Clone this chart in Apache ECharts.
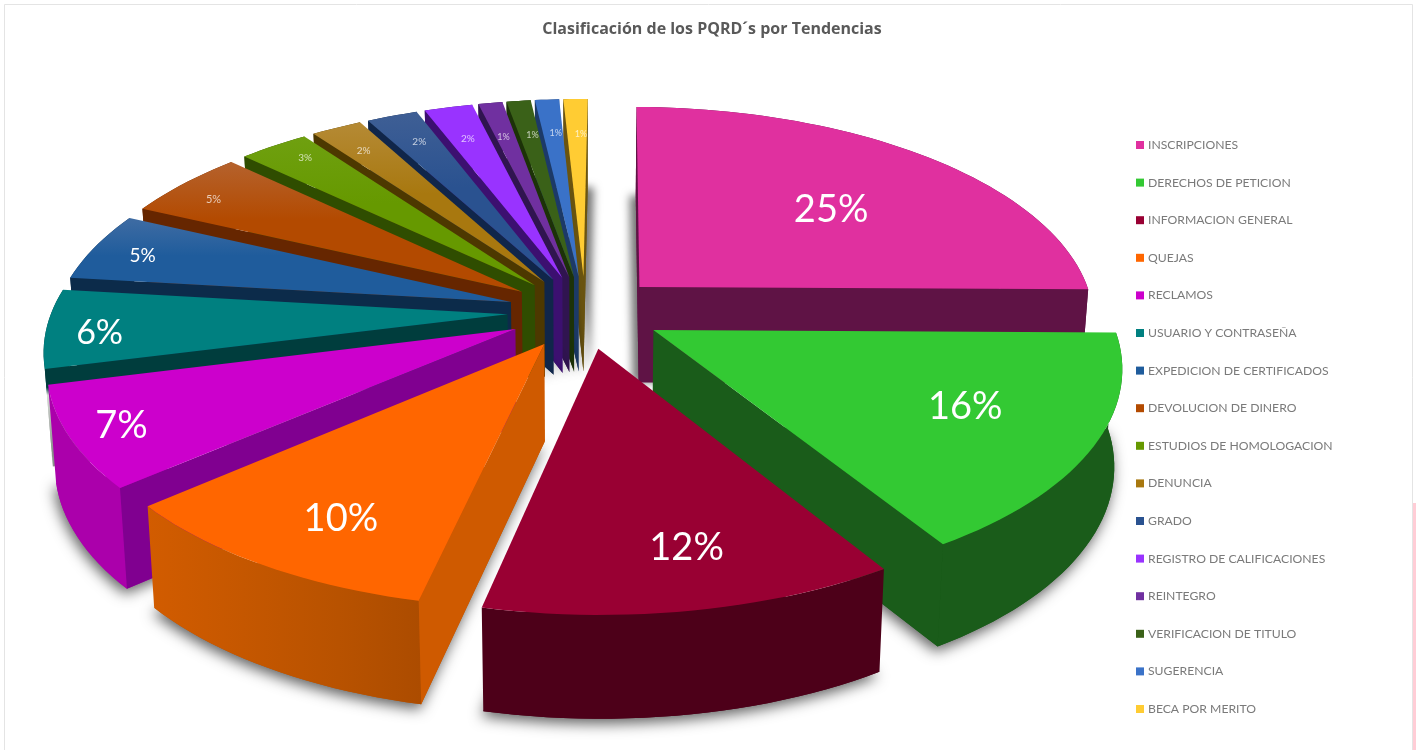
<!DOCTYPE html>
<html>
<head>
<meta charset="utf-8">
<title>Clasificación de los PQRD´s por Tendencias</title>
<style>html,body{margin:0;padding:0;background:#fff}#chart{width:1416px;height:750px}</style>
<script src="https://cdn.jsdelivr.net/npm/echarts@6/dist/echarts.min.js"></script>
</head>
<body>
<div id="chart"></div>
<script>
// PQRD counts by category, as shares of the total
const categories = ['INSCRIPCIONES','DERECHOS DE PETICION','INFORMACION GENERAL','QUEJAS','RECLAMOS',
  'USUARIO Y CONTRASEÑA','EXPEDICION DE CERTIFICADOS','DEVOLUCION DE DINERO','ESTUDIOS DE HOMOLOGACION',
  'DENUNCIA','GRADO','REGISTRO DE CALIFICACIONES','REINTEGRO','VERIFICACION DE TITULO','SUGERENCIA','BECA POR MERITO'];
const shares = [25.0,16.0,12.3,10.2,7.4,5.8,5.1,5.1,2.9,2.1,2.1,2.0,1.0,1.0,1.0,1.0];

// Slice palette: top face, lighter rim tint, radial wall, outer wall
const topColors   = ['#e0309f','#33c933','#990033','#ff6600','#cc00cc','#008080','#1f5c9c','#b34a00','#669900','#a8780f','#2a5290','#9933ff','#7030a0','#3a6118','#3a72c8','#ffcc33'];
const rimColors   = ['#e0309f','#33c933','#990033','#ff6600','#cc00cc','#008080','#3f6ca3','#b5622d','#6fa010','#b58a35','#3f5f95','#9933ff','#7030a0','#3a6118','#3a72c8','#ffcc33'];
const wallColors  = ['#5f1345','#1a5c1a','#4d0019','#cf5a00','#800090','#003d3d','#0c2b4a','#662600','#2f4d00','#4d3800','#10264a','#3c1070','#301450','#1c3208','#1c3a68','#6a5410'];
const outerColors = ['#5f1345','#1a5c1a','#4d0019','#b85200','#ab00ab','#003d3d','#0c2b4a','#662600','#2f4d00','#4d3800','#10264a','#3c1070','#301450','#1c3208','#1c3a68','#6a5410'];
// Percent label size, radial position and fine placement for each slice
const labelSizes  = [38,38,38,38,38,34,19,11,10,10,10,10,9,9,9,9];
const labelRadii  = [.60,.70,.78,.80,.90,.89,.89,.88,.88,.84,.80,.80,.80,.80,.80,.80];
const labelShifts = [[14,4],[11,-3],[17,3],[15,3],[4,0],[2,6],[3,3],[-8,4],[3,-3],[-3,1],[-2,-4],[-1,1],[-1,3],[4,3],[3,2],[4,3]];
// Paint order, far slices first
const paintOrder  = [0,15,14,13,12,11,10,9,8,7,6,5,4,1,3,2];

// Tilted-disc projection
const view = {cx:585, cy:312, rx:456, ry:214, persp:.15, explode:.17, depth:96, depthGrow:.07, shrink:.985, rotation:.6 * Math.PI / 180};
function project(u, v, bottom) {
  const w = 1 - view.persp * v;
  let x = view.cx + view.rx * u / w;
  let y = view.cy + view.ry * v / w;
  if (bottom) {
    y += view.depth * (1 + view.depthGrow * v);
    x = view.cx + (x - view.cx) * view.shrink;
  }
  return [x, y];
}

const total = shares.reduce((a, b) => a + b, 0);
function sliceAngles(i) {
  const before = shares.slice(0, i).reduce((a, b) => a + b, 0);
  return [view.rotation + before / total * 2 * Math.PI, view.rotation + (before + shares[i]) / total * 2 * Math.PI];
}
function planePoint(i, r, a) {
  const [a0, a1] = sliceAngles(i), mid = (a0 + a1) / 2;
  return [r * Math.sin(a) + view.explode * Math.sin(mid), -r * Math.cos(a) - view.explode * Math.cos(mid)];
}
const signedArea = pts => pts.reduce((s, p, k) => {
  const q = pts[(k + 1) % pts.length];
  return s + p[0] * q[1] - q[0] * p[1];
}, 0);

// Drop shadow of a slice footprint; the two slices beside the central gap throw it sideways
function footprintShadow(i) {
  if (i === 0) return {shadowBlur:8, shadowColor:'rgba(0,0,0,.55)', shadowOffsetX:-6, shadowOffsetY:0};
  if (i === 15) return {shadowBlur:8, shadowColor:'rgba(0,0,0,.55)', shadowOffsetX:6, shadowOffsetY:0};
  return i < 5
    ? {shadowBlur:14, shadowColor:'rgba(0,0,0,.62)', shadowOffsetX:-2, shadowOffsetY:5}
    : {shadowBlur:9, shadowColor:'rgba(0,0,0,.62)', shadowOffsetX:3, shadowOffsetY:3};
}
// Teal walls dissolve into a pale shadow where they drop below the magenta slice
const tealFade = stop => new echarts.graphic.LinearGradient(0, 0, 0, 1,
  [{offset:0, color:'#003d3d'}, {offset:stop, color:'#003d3d'}, {offset:stop + .05, color:'#d4d8d4'}, {offset:.9, color:'#8a918a'}, {offset:1, color:'#8a918a'}]);
function outerFill(i) {
  if (i === 3) return new echarts.graphic.LinearGradient(0, 0, 1, 0,
    [{offset:0, color:'#d25c00'}, {offset:.7, color:'#b85200'}, {offset:1, color:'#ac4c00'}]);
  if (i === 5) return tealFade(.55);
  return outerColors[i];
}
const radialFill = i => i === 5 ? tealFade(.48) : wallColors[i];

function renderSlice(i) {
  return function (params, api) {
    const [a0, a1] = sliceAngles(i);
    const steps = Math.max(4, Math.ceil((a1 - a0) / 0.03));
    const arcTop = [], arcBottom = [];
    for (let k = 0; k <= steps; k++) {
      const a = a0 + (a1 - a0) * k / steps, p = planePoint(i, 1, a);
      arcTop.push(project(p[0], p[1], false));
      arcBottom.push(project(p[0], p[1], true));
    }
    const c = planePoint(i, 0, 0);
    const apexTop = project(c[0], c[1], false), apexBottom = project(c[0], c[1], true);
    const children = [];

    // Footprint with its cast shadow (skipped on the teal slice, which sits inside its neighbours)
    if (i !== 5) {
      children.push({type:'polygon', shape:{points:[apexBottom, ...arcBottom]},
        style:Object.assign({fill:outerColors[i]}, footprintShadow(i))});
    }

    // Outer curved wall
    children.push({type:'polygon', shape:{points:[...arcTop, ...arcBottom.slice().reverse()]}, style:{fill:outerFill(i)}});

    // Radial walls, culled when they face away
    const startWall = [apexTop, arcTop[0], arcBottom[0], apexBottom];
    const endWall = [arcTop[steps], apexTop, apexBottom, arcBottom[steps]];
    [startWall, endWall].forEach(w => {
      if (signedArea(w) < 0) children.push({type:'polygon', shape:{points:w}, style:{fill:radialFill(i)}});
    });

    // Top face, lighter toward the rim on the far slices
    const fill = rimColors[i] === topColors[i] ? topColors[i] : new echarts.graphic.LinearGradient(0, 0, 0, 1,
      [{offset:0, color:rimColors[i]}, {offset:.45, color:topColors[i]}, {offset:1, color:topColors[i]}]);
    children.push({type:'polygon', shape:{points:[apexTop, ...arcTop]}, style:{fill:fill}});

    // Percent label
    const mid = (a0 + a1) / 2, lp = planePoint(i, labelRadii[i], mid), lxy = project(lp[0], lp[1], false);
    children.push({type:'text', z2:10, style:{x:lxy[0] + labelShifts[i][0], y:lxy[1] + labelShifts[i][1],
      text:Math.round(api.value(0)) + '%', align:'center', verticalAlign:'middle',
      fill:i < 7 ? '#ffffff' : 'rgba(255,255,255,.7)', font:labelSizes[i] + 'px Lato, sans-serif'}});

    return {type:'group', children:children};
  };
}

const series = categories.map((name, i) => ({
  name: name,
  type: 'custom',
  coordinateSystem: 'none',
  z: 2 + paintOrder.indexOf(i),
  silent: true,
  itemStyle: {color: topColors[i]},
  data: [[shares[i]]],
  renderItem: renderSlice(i)
}));

const chart = echarts.init(document.getElementById('chart'), null, {renderer:'canvas'});
chart.setOption({
  animation: false,
  backgroundColor: '#ffffff',
  title: {
    text: 'Clasificación de los PQRD´s por Tendencias',
    left: 707, top: 16, textAlign: 'center',
    textStyle: {fontFamily:'"Open Sans", sans-serif', fontSize:16, fontWeight:'bold', color:'#595959'}
  },
  legend: {
    orient: 'vertical', left: 1131, top: 132, itemWidth: 8, itemHeight: 8, itemGap: 21.6,
    icon: 'rect', selectedMode: false, data: categories,
    textStyle: {fontFamily:'Lato, sans-serif', fontSize:12.2, color:'#7a7a7a', height:16, lineHeight:16, padding:[0,0,0,-1]}
  },
  graphic: [
    {type:'rect', z:0, shape:{x:4.5, y:4.5, width:1408, height:760}, style:{fill:'none', stroke:'#e4e4e4', lineWidth:1}},
    {type:'rect', z:0, shape:{x:1413, y:503, width:3, height:247}, style:{fill:'#ffcdd6'}}
  ],
  series: series
});
</script>
</body>
</html>
